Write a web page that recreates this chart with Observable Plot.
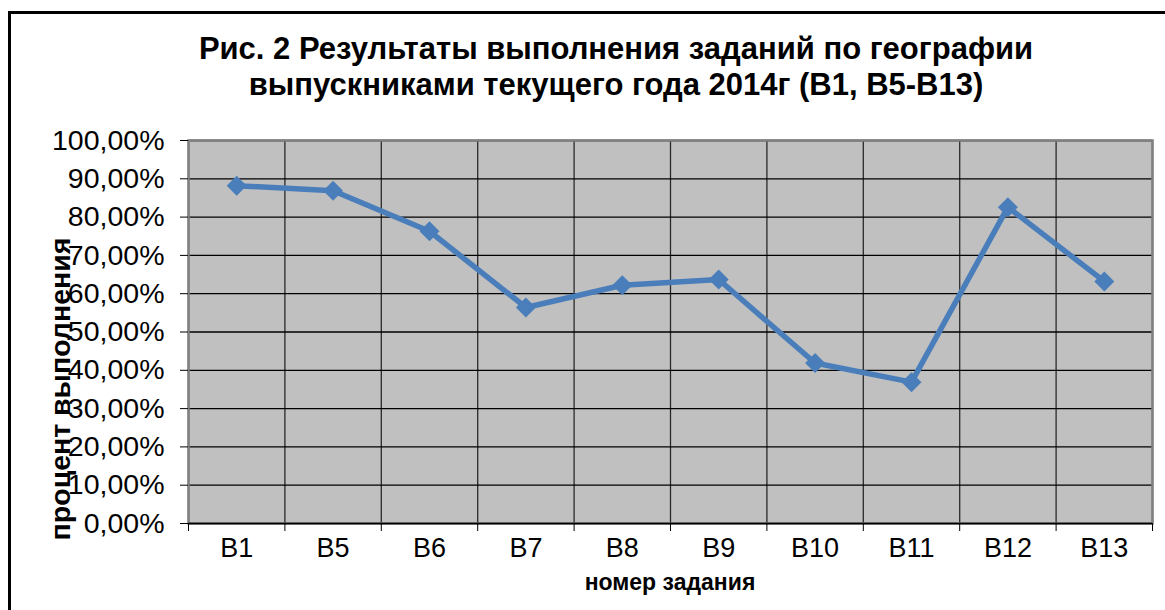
<!DOCTYPE html>
<html>
<head>
<meta charset="utf-8">
<script src="https://cdn.jsdelivr.net/npm/d3@7"></script>
<script src="https://cdn.jsdelivr.net/npm/@observablehq/plot@0.6"></script>
<style>
  html, body { margin: 0; padding: 0; background: #fff; }
  body { width: 1165px; height: 610px; overflow: hidden; position: relative; font-family: "Liberation Sans", Arial, sans-serif; }
  #frame { position: absolute; left: 8px; top: 11px; width: 1200px; height: 700px; border: 3px solid #000; box-sizing: border-box; }
  #title { position: absolute; left: 0; width: 1232px; top: 31px; text-align: center; font-weight: bold; font-size: 31px; line-height: 36px; color: #000; }
  #ytitle { position: absolute; left: 60px; top: 389px; transform: translate(-50%, -50%) rotate(-90deg); white-space: nowrap; font-weight: bold; font-size: 28.5px; color: #000; }
  #xtitle { position: absolute; left: 670px; top: 582px; transform: translate(-50%, -50%); white-space: nowrap; font-weight: bold; font-size: 23px; color: #000; }
  #chart { position: absolute; left: 0; top: 0; }
</style>
</head>
<body>
<div id="frame"></div>
<div id="chart"></div>
<div id="title">Рис. 2 Результаты выполнения заданий по географии<br>выпускниками текущего года 2014г (В1, В5-В13)</div>
<div id="ytitle">процент выполнения</div>
<div id="xtitle">номер задания</div>
<script>
const categories = ["В1", "В5", "В6", "В7", "В8", "В9", "В10", "В11", "В12", "В13"];
const values = [0.882, 0.869, 0.763, 0.564, 0.622, 0.637, 0.419, 0.369, 0.826, 0.632];
const yTicks = [0, 0.1, 0.2, 0.3, 0.4, 0.5, 0.6, 0.7, 0.8, 0.9, 1.0];

const data = categories.map((c, i) => ({ i, c, v: values[i] }));
const bounds = d3.range(categories.length + 1).map(k => k - 0.5);
const pct = d => (d * 100).toFixed(2).replace(".", ",") + "%";

const chart = Plot.plot({
  width: 1165,
  height: 610,
  marginLeft: 188,
  marginRight: 13,
  marginTop: 140,
  marginBottom: 87,
  style: { fontFamily: "'Liberation Sans', Arial, sans-serif", color: "#000", background: "transparent" },
  x: { type: "linear", domain: [-0.5, categories.length - 0.5] },
  y: { domain: [0, 1] },
  marks: [
    Plot.frame({ fill: "#c0c0c0", stroke: "none" }),
    Plot.ruleX(bounds, { x: d => d, stroke: "#2a2a2a", strokeWidth: 1.3 }),
    Plot.ruleY(yTicks, { y: d => d, stroke: "#000", strokeWidth: 1.3 }),
    Plot.frame({ stroke: "#808080", strokeWidth: 2.5 }),
    Plot.ruleY([0], { stroke: "#000", strokeWidth: 1.5 }),
    Plot.axisY(yTicks, { tickFormat: pct, tickSize: 8, tickPadding: 16, fontSize: 28.5, stroke: "#000", label: null }),
    Plot.axisX(bounds, { tickFormat: () => "", tickSize: 8, stroke: "#000", label: null }),
    Plot.axisX(d3.range(categories.length), { tickFormat: i => categories[i], tickSize: 0, tickPadding: 14, fontSize: 27, label: null }),
    Plot.line(data, { x: "i", y: "v", stroke: "#4a7ebb", strokeWidth: 5.5 }),
    Plot.dot(data, { x: "i", y: "v", symbol: "diamond2", r: 9, fill: "#4a7ebb", stroke: "none" })
  ]
});
document.getElementById("chart").appendChild(chart);
</script>
</body>
</html>
